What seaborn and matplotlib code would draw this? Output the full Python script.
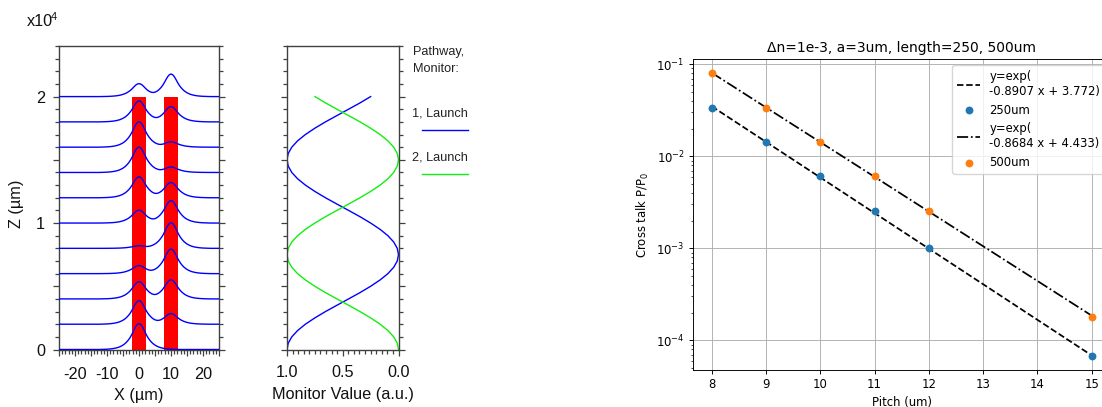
import numpy as np
import matplotlib
matplotlib.use("Agg")
import matplotlib.pyplot as plt
from matplotlib.lines import Line2D
from matplotlib.ticker import MultipleLocator, FuncFormatter, NullFormatter
import seaborn as sns

# ---------------- data ----------------
# Left panel: field profiles along the coupler (BPM view)
x_grid = np.arange(-25.0, 25.01, 0.5)
mode_offset = np.arange(0.0, 12.01, 0.5)
mode_value = [1.00, 0.97, 0.89, 0.77, 0.64, 0.52, 0.42, 0.34, 0.27, 0.215,
              0.17, 0.135, 0.105, 0.082, 0.064, 0.05, 0.038, 0.029, 0.022,
              0.016, 0.012, 0.009, 0.006, 0.004, 0.002]
guide_centers = [0.0, 10.0]
guide_left_edges = [-2.2, 7.9]
guide_width = 4.4
guide_length = 20000
z_slices = [0, 2000, 4000, 6000, 8000, 10000, 12000, 14000, 16000, 18000, 20000]
amp_guide1 = [1.00, 0.91, 0.67, 0.31, 0.10, 0.50, 0.81, 0.98, 0.98, 0.81, 0.50]
amp_guide2 = [0.00, 0.41, 0.74, 0.95, 0.99, 0.87, 0.59, 0.21, 0.21, 0.59, 0.87]

# Middle panel: monitor values (power in each guide) versus Z
z_monitor = list(range(0, 20001, 500))
monitor_1 = [1.000, 0.989, 0.957, 0.905, 0.835, 0.750, 0.655, 0.552, 0.448, 0.345,
             0.250, 0.165, 0.095, 0.043, 0.011, 0.000, 0.011, 0.043, 0.095, 0.165,
             0.250, 0.345, 0.448, 0.552, 0.655, 0.750, 0.835, 0.905, 0.957, 0.989,
             1.000, 0.989, 0.957, 0.905, 0.835, 0.750, 0.655, 0.552, 0.448, 0.345,
             0.250]
monitor_2 = [0.000, 0.011, 0.043, 0.095, 0.165, 0.250, 0.345, 0.448, 0.552, 0.655,
             0.750, 0.835, 0.905, 0.957, 0.989, 1.000, 0.989, 0.957, 0.905, 0.835,
             0.750, 0.655, 0.552, 0.448, 0.345, 0.250, 0.165, 0.095, 0.043, 0.011,
             0.000, 0.011, 0.043, 0.095, 0.165, 0.250, 0.345, 0.448, 0.552, 0.655,
             0.750]

# Right panel: cross talk vs pitch
pitch = [8, 9, 10, 11, 12, 15]
xt_250 = [0.0333, 0.0143, 0.00607, 0.00252, 0.00100, 6.76e-5]
xt_500 = [0.0798, 0.0333, 0.0143, 0.00607, 0.00255, 1.79e-4]
fit_250 = (-0.8907, 3.772)
fit_500 = (-0.8684, 4.433)

# ---------------- figure ----------------
W, H = 1102, 407
fig = plt.figure(figsize=(W / 100, H / 100), dpi=100)
LF = "Liberation Sans"
LS = 11.7
SPC = "#404040"
BLUE = "#0000ff"
GREEN = "#11ee11"

ax1 = fig.add_axes([59 / W, 57.5 / H, 160 / W, 303.5 / H])
ax2 = fig.add_axes([287 / W, 57.5 / H, 111.5 / W, 303.5 / H])
ax3 = fig.add_axes([692.7 / W, 36.7 / H, 418 / W, 311 / H])

# ---- left panel ----
ax1.bar(guide_left_edges, [guide_length, guide_length], width=guide_width,
        align="edge", color="#ff0000", zorder=1, linewidth=0)

mode_arr = np.array(mode_value)


def mode_at(center):
    off = np.abs(x_grid - center)
    idx = np.rint(off / 0.5).astype(int)
    return np.where(idx < len(mode_arr), mode_arr[np.minimum(idx, len(mode_arr) - 1)], 0.0)


m1 = mode_at(guide_centers[0])
m2 = mode_at(guide_centers[1])
scale = 2050
for z, a1, a2 in zip(z_slices, amp_guide1, amp_guide2):
    y = z + scale * np.sqrt((a1 * m1) ** 2 + (a2 * m2) ** 2)
    sns.lineplot(x=x_grid, y=y, ax=ax1, color=BLUE, lw=1.0, sort=False,
                 estimator=None, zorder=3)

ax1.set_xlim(-25, 25)
ax1.set_ylim(0, 24000)
ax1.xaxis.set_major_locator(MultipleLocator(5))
ax1.xaxis.set_minor_locator(MultipleLocator(1))
ax1.xaxis.set_major_formatter(FuncFormatter(
    lambda v, p: f"{int(round(v))}" if int(round(v)) % 10 == 0 else ""))
ax1.yaxis.set_major_locator(MultipleLocator(5000))
ax1.yaxis.set_minor_locator(MultipleLocator(1000))
ax1.yaxis.set_major_formatter(FuncFormatter(
    lambda v, p: f"{int(round(v / 1e4))}" if int(round(v)) % 10000 == 0 else ""))

for ax in (ax1, ax2):
    for s in ax.spines.values():
        s.set_color(SPC)
        s.set_linewidth(1.0)
    ax.tick_params(which="both", direction="out", left=True, right=True,
                   top=False, bottom=True, color=SPC, width=0.9,
                   labelsize=LS, labelfontfamily=LF, labelcolor="#111111")
    ax.tick_params(which="major", length=4.5)
    ax.tick_params(which="minor", length=2.6)
    ax.set_facecolor("white")

ax1.tick_params(axis="x", which="major", pad=8.0)
ax1.tick_params(axis="y", which="major", pad=5.5)
ax1.set_xlabel("X (µm)", fontsize=LS, fontfamily=LF, color="#111111")
ax1.set_ylabel("Z (µm)", fontsize=LS, fontfamily=LF, color="#111111")
ax1.xaxis.set_label_coords(0.5, -0.128)
ax1.yaxis.set_label_coords(-0.219, 0.48)

fig.text(26.5 / W, 1 - 22 / H, "x10", fontsize=LS, fontfamily=LF,
         va="center", ha="left", color="#111111")
fig.text(51 / W, 1 - 16.5 / H, "4", fontsize=8.0, fontfamily=LF,
         va="center", ha="left", color="#111111")

# ---- middle panel ----
sns.lineplot(x=monitor_1, y=z_monitor, ax=ax2, color=BLUE, lw=1.0,
             sort=False, estimator=None, orient="y")
sns.lineplot(x=monitor_2, y=z_monitor, ax=ax2, color=GREEN, lw=1.0,
             sort=False, estimator=None, orient="y")
ax2.set_xlim(1.0, 0.0)
ax2.set_ylim(0, 24000)
ax2.xaxis.set_major_locator(MultipleLocator(0.5))
ax2.xaxis.set_minor_locator(MultipleLocator(0.05))
ax2.xaxis.set_major_formatter(FuncFormatter(lambda v, p: f"{v:.1f}"))
ax2.yaxis.set_major_locator(MultipleLocator(5000))
ax2.yaxis.set_minor_locator(MultipleLocator(1000))
ax2.yaxis.set_major_formatter(NullFormatter())
ax2.tick_params(axis="x", which="major", pad=6.6)
ax2.set_xlabel("Monitor Value (a.u.)", fontsize=LS, fontfamily=LF, color="#111111")
ax2.xaxis.set_label_coords(0.5, -0.122)
ax2.set_ylabel("")

LGS = 9.2
fig.text(412.5 / W, 1 - 51.5 / H, "Pathway,", fontsize=LGS, fontfamily=LF,
         va="center", ha="left", color="#222222")
fig.text(412.5 / W, 1 - 69.5 / H, "Monitor:", fontsize=LGS, fontfamily=LF,
         va="center", ha="left", color="#222222")
fig.text(412.5 / W, 1 - 113.5 / H, "1, Launch", fontsize=LGS, fontfamily=LF,
         va="center", ha="left", color="#222222")
fig.text(412.5 / W, 1 - 158 / H, "2, Launch", fontsize=LGS, fontfamily=LF,
         va="center", ha="left", color="#222222")
fig.add_artist(Line2D([421.7 / W, 468.3 / W], [1 - 130 / H, 1 - 130 / H],
                      transform=fig.transFigure, color=BLUE, lw=1.0))
fig.add_artist(Line2D([421.7 / W, 468.3 / W], [1 - 174.3 / H, 1 - 174.3 / H],
                      transform=fig.transFigure, color=GREEN, lw=1.0))

# ---- right panel ----
S = 0.835
ax3.set_yscale("log")
pitch_arr = np.array(pitch, dtype=float)
fit_line_250 = np.exp(fit_250[0] * pitch_arr + fit_250[1])
fit_line_500 = np.exp(fit_500[0] * pitch_arr + fit_500[1])
lab_250 = f"y=exp(\n{fit_250[0]:.4f} x + {fit_250[1]:.3f})"
lab_500 = f"y=exp(\n{fit_500[0]:.4f} x + {fit_500[1]:.3f})"

sns.lineplot(x=pitch_arr, y=fit_line_250, ax=ax3, color="k", lw=1.5 * S,
             linestyle="--", sort=False, estimator=None, zorder=2)
sns.scatterplot(x=pitch, y=xt_250, ax=ax3, color="#1f77b4", s=32,
                linewidth=0, zorder=3)
sns.lineplot(x=pitch_arr, y=fit_line_500, ax=ax3, color="k", lw=1.5 * S,
             linestyle="-.", sort=False, estimator=None, zorder=2)
sns.scatterplot(x=pitch, y=xt_500, ax=ax3, color="#ff7f0e", s=32,
                linewidth=0, zorder=3)

ax3.set_xlim(7.65, 15.35)
ax3.set_ylim(4.72e-5, 0.1133)
ax3.grid(True, which="major", color="#b0b0b0", lw=0.8 * S)
for s in ax3.spines.values():
    s.set_linewidth(0.8 * S)
    s.set_color("black")
ax3.tick_params(which="major", length=3.5 * S, width=0.8 * S, pad=3.5 * S,
                labelsize=10 * S, color="black", labelcolor="black")
ax3.tick_params(which="minor", length=2.0 * S, width=0.6 * S)
ax3.set_xlabel("Pitch (um)", fontsize=10 * S, labelpad=4 * S)
ax3.set_ylabel("Cross talk P/P$_0$", fontsize=10 * S, labelpad=4 * S)
ax3.set_title("Δn=1e-3, a=3um, length=250, 500um", fontsize=12 * S, pad=6 * S)

lines = [c for c in ax3.get_lines()]
colls = [c for c in ax3.collections]
handles = [lines[0], colls[0], lines[1], colls[1]]
labels = [lab_250, "250um", lab_500, "500um"]
ax3.legend(handles, labels, loc="upper right", fontsize=10 * S,
           framealpha=0.8, edgecolor="#cccccc", borderaxespad=0.5)

fig.savefig("out.png", dpi=100)
